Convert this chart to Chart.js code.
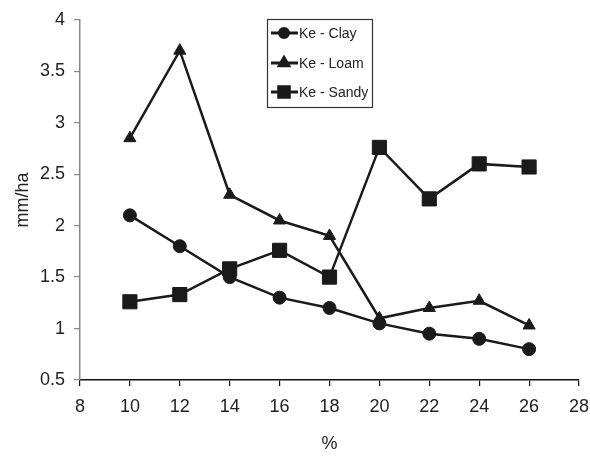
<!DOCTYPE html>
<html>
<head>
<meta charset="utf-8">
<script src="https://cdn.jsdelivr.net/npm/chart.js@4"></script>
<style>
    html, body { margin: 0; padding: 0; background: #fff; }
    #wrap { width: 590px; height: 456px; position: relative; }
</style>
</head>
<body>
<div id="wrap"><canvas id="soilChart"></canvas></div>
<script>
// Data
const xValues = [10, 12, 14, 16, 18, 20, 22, 24, 26];
const clayValues = [2.1, 1.8, 1.5, 1.3, 1.2, 1.05, 0.95, 0.9, 0.8];
const loamValues = [2.85, 3.7, 2.3, 2.05, 1.9, 1.1, 1.2, 1.27, 1.03];
const sandyValues = [1.26, 1.33, 1.58, 1.76, 1.5, 2.76, 2.26, 2.6, 2.57];
const seriesLabels = ['Ke - Clay', 'Ke - Loam', 'Ke - Sandy'];

const toPoints = (vals) => xValues.map((x, i) => ({ x: x, y: vals[i] }));

const ink = '#1a1a1a';
const textColor = '#222';
const fontFamily = '"Liberation Sans", Arial, sans-serif';

// Legend box drawn inside the plot, top middle
const boxLegend = {
    id: 'boxLegend',
    afterDraw(chart) {
        const ctx = chart.ctx;
        const left = 267, top = 19, right = 372, bottom = 107;
        const rows = [33, 63, 92];
        ctx.save();
        ctx.fillStyle = '#fff';
        ctx.fillRect(left, top, right - left, bottom - top);
        ctx.strokeStyle = '#333';
        ctx.lineWidth = 1.2;
        ctx.strokeRect(left + 0.5, top + 0.5, right - left, bottom - top);
        chart.data.datasets.forEach((ds, i) => {
            const y = rows[i];
            ctx.strokeStyle = ink;
            ctx.lineWidth = 3;
            ctx.beginPath();
            ctx.moveTo(271, y);
            ctx.lineTo(298, y);
            ctx.stroke();
            ctx.fillStyle = ink;
            const r = ds.pointStyle === 'rect' ? 7.5 : (ds.pointStyle === 'triangle' ? 5.5 : 4.5);
            Chart.helpers.drawPoint(ctx, { pointStyle: ds.pointStyle, radius: r, rotation: 0, borderWidth: 1 }, 284, y);
            ctx.fillStyle = textColor;
            ctx.font = '14px ' + fontFamily;
            ctx.textBaseline = 'middle';
            ctx.textAlign = 'left';
            ctx.fillText(ds.label, 299, y + 1);
        });
        ctx.restore();
    }
};

function makeSeries(label, values, style, radius) {
    return {
        label: label,
        data: toPoints(values),
        borderColor: ink,
        backgroundColor: ink,
        pointBackgroundColor: ink,
        pointBorderColor: ink,
        borderWidth: 2.5,
        pointStyle: style,
        pointRadius: radius,
        pointBorderWidth: 1,
        tension: 0,
        fill: false
    };
}

new Chart(document.getElementById('soilChart').getContext('2d'), {
    type: 'line',
    data: {
        datasets: [
            makeSeries(seriesLabels[0], clayValues, 'circle', 6.5),
            makeSeries(seriesLabels[1], loamValues, 'triangle', 7),
            makeSeries(seriesLabels[2], sandyValues, 'rect', 10)
        ]
    },
    options: {
        responsive: true,
        maintainAspectRatio: false,
        animation: false,
        layout: { padding: { left: 0, right: 0, top: 14, bottom: 0 } },
        plugins: {
            legend: { display: false },
            tooltip: { enabled: false }
        },
        scales: {
            x: {
                type: 'linear',
                min: 8,
                max: 28,
                afterFit(scale) {
                    scale.height = 76;
                    scale.paddingRight = 10;
                },
                border: { display: true, color: '#111', width: 1.5 },
                grid: { display: true, drawOnChartArea: false, drawTicks: true, tickLength: 6, color: '#111', lineWidth: 1.2 },
                ticks: {
                    stepSize: 2,
                    color: textColor,
                    padding: 10,
                    font: { family: fontFamily, size: 18 }
                },
                title: {
                    display: true,
                    text: '%',
                    color: textColor,
                    padding: { top: 0, bottom: 1 },
                    font: { family: fontFamily, size: 18 }
                }
            },
            y: {
                min: 0.5,
                max: 4,
                afterFit(scale) { scale.width = 80; },
                border: { display: true, color: '#888', width: 1.5 },
                grid: { display: true, drawOnChartArea: false, drawTicks: true, tickLength: 6, color: '#888', lineWidth: 1.2 },
                ticks: {
                    stepSize: 0.5,
                    color: textColor,
                    padding: 9,
                    font: { family: fontFamily, size: 18 },
                    callback: (v) => String(v)
                },
                title: {
                    display: true,
                    text: 'mm/ha',
                    color: textColor,
                    padding: { top: 12, bottom: 0 },
                    font: { family: fontFamily, size: 18 }
                }
            }
        }
    },
    plugins: [boxLegend]
});
</script>
</body>
</html>
